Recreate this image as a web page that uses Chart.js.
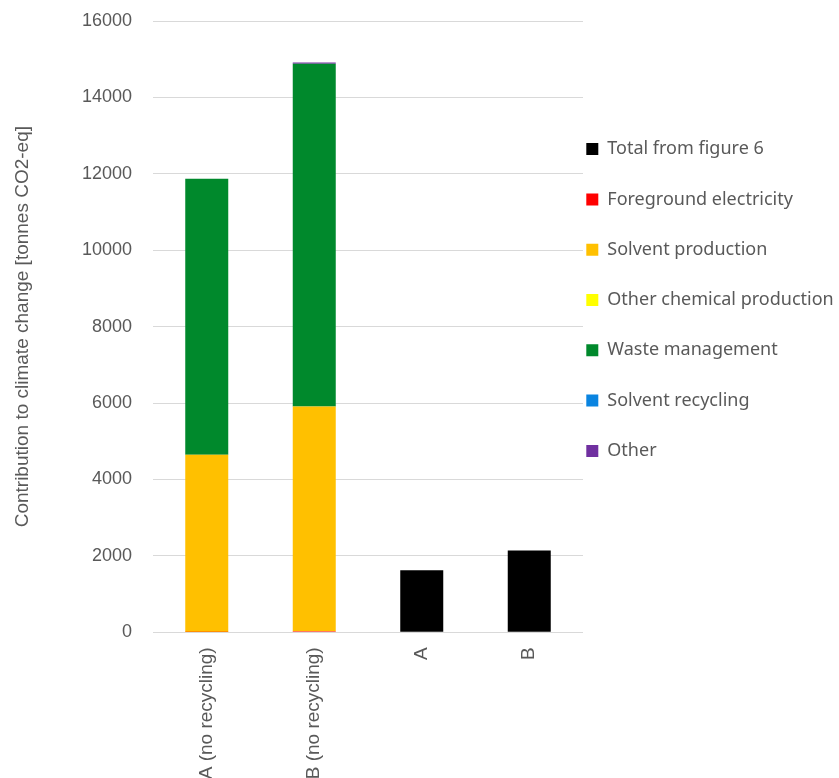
<!DOCTYPE html>
<html>
<head>
<meta charset="utf-8">
<script src="https://cdn.jsdelivr.net/npm/chart.js@4/dist/chart.umd.min.js"></script>
<style>
  html, body { margin: 0; padding: 0; background: #ffffff; }
  #wrap { width: 839px; height: 778px; }
</style>
</head>
<body>
<div id="wrap"><canvas id="c" width="839" height="778"></canvas></div>
<script>
const categories = ["A (no recycling)", "B (no recycling)", "A", "B"];
const seriesNames = ["Total from figure 6", "Foreground electricity", "Solvent production",
  "Other chemical production", "Waste management", "Solvent recycling", "Other"];
const totalFromFigure6 = [null, null, 1625, 2140];
const foregroundElectricity = [10, 30, null, null];
const solventProduction = [4637, 5883, null, null];
const otherChemicalProduction = [0, 0, null, null];
const wasteManagement = [7227, 8965, null, null];
const solventRecycling = [0, 0, null, null];
const other = [0, 35, null, null];
const yTicks = { min: 0, max: 16000, step: 2000 };

const colors = ["#000000", "#FF0000", "#FFC000", "#FFFF00", "#00892C", "#0A84E0", "#7030A0"];
const seriesValues = [totalFromFigure6, foregroundElectricity, solventProduction,
  otherChemicalProduction, wasteManagement, solventRecycling, other];

const datasets = seriesNames.map((name, i) => ({
  label: name,
  data: seriesValues[i],
  backgroundColor: colors[i],
  borderWidth: 0,
  barPercentage: 0.4,
  categoryPercentage: 1.0
}));

const AXIS_FONT = "'Liberation Sans', Arial, sans-serif";
const GREY = "#595959";

const legendShift = {
  id: 'legendShift',
  afterLayout(chart) {
    const l = chart.legend;
    if (!l) return;
    l.left -= 29;
    l.top = 107.8;
    l.bottom = 778;
  }
};

new Chart(document.getElementById('c'), {
  type: 'bar',
  data: { labels: categories, datasets },
  plugins: [legendShift],
  options: {
    responsive: false,
    animation: false,
    layout: { padding: 0 },
    plugins: {
      tooltip: { enabled: false },
      legend: {
        position: 'right',
        align: 'start',
        maxWidth: 256,
        labels: {
          boxWidth: 12,
          boxHeight: 12,
          padding: 32.3,
          color: GREY,
          font: { family: "'Noto Sans', sans-serif", size: 18 }
        }
      }
    },
    scales: {
      x: {
        stacked: true,
        grid: { display: false },
        border: { display: false },
        ticks: {
          color: GREY,
          maxRotation: 90,
          minRotation: 90,
          padding: 7,
          autoSkip: false,
          font: { family: AXIS_FONT, size: 19 }
        },
        afterFit(s) { s.height = 145.7; }
      },
      y: {
        stacked: true,
        min: yTicks.min,
        max: yTicks.max,
        grid: { color: "#d9d9d9", lineWidth: 1, drawTicks: false },
        border: { display: false },
        ticks: {
          stepSize: yTicks.step,
          color: GREY,
          padding: 21,
          font: { family: AXIS_FONT, size: 18 },
          callback: (v) => String(v)
        },
        title: {
          display: true,
          text: "Contribution to climate change [tonnes CO2-eq]",
          color: GREY,
          padding: { top: 11, bottom: 0 },
          font: { family: AXIS_FONT, size: 19 }
        },
        afterFit(s) { s.width = 153; s.paddingTop = 21; s.paddingBottom = 0; }
      }
    }
  }
});
</script>
</body>
</html>
